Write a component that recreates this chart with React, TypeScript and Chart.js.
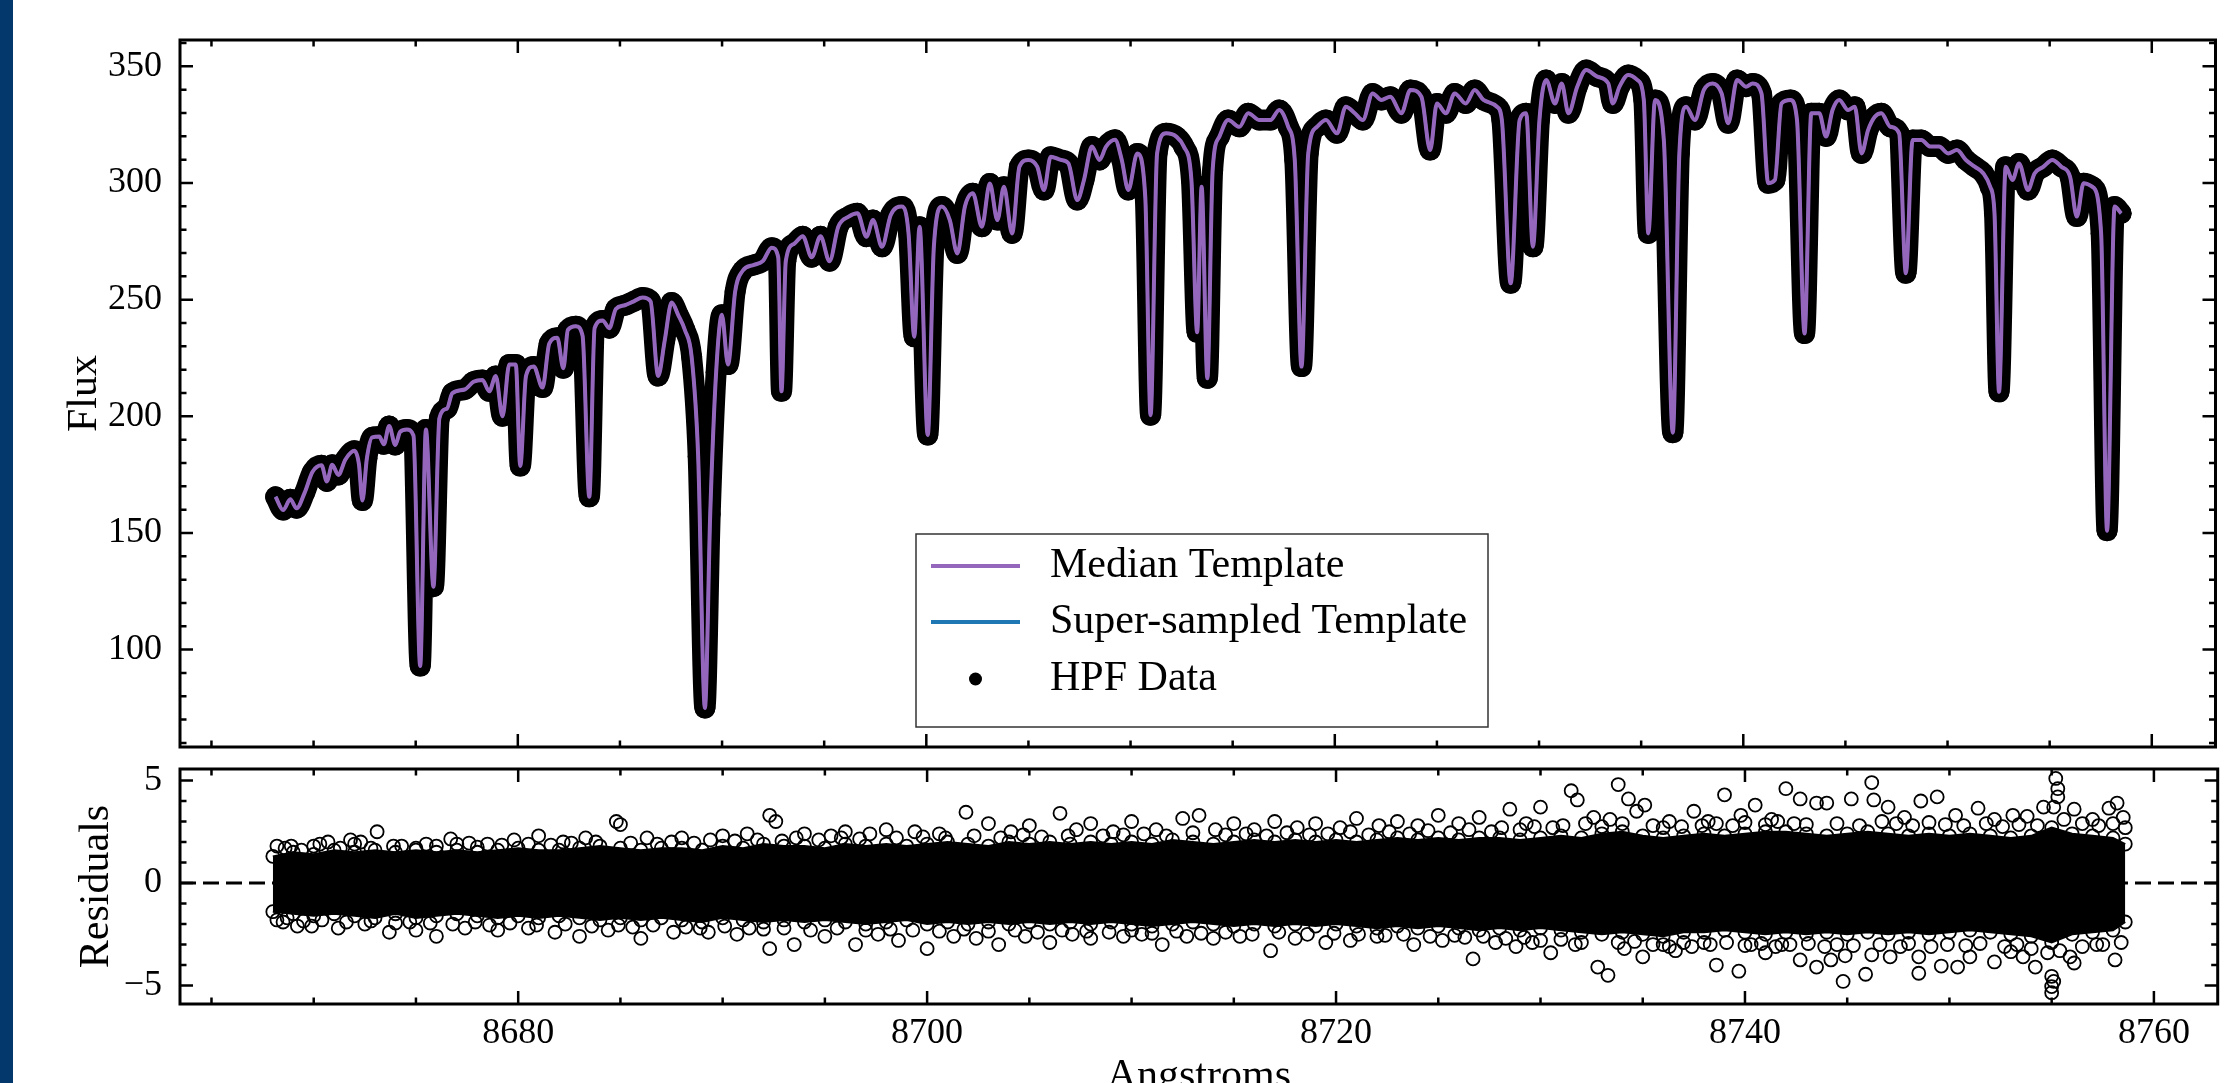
import React, { useEffect, useRef } from 'react';
import { Chart, registerables } from 'chart.js';

Chart.register(...registerables);

// ---------------- data ----------------
// Median template: [wavelength (Angstrom), flux]
const medianTemplate: [number, number][] = [
  [8668.14, 165.5], [8668.51, 159.8], [8668.86, 164.4], [8669.17, 160.6], [8669.56, 167.2],
  [8669.95, 176.2], [8670.39, 179.0], [8670.65, 172.1], [8670.91, 179.2], [8671.21, 174.9],
  [8671.56, 181.5], [8672.0, 185.2], [8672.22, 179.5], [8672.39, 163.9], [8672.61, 182.0],
  [8672.87, 191.0], [8673.22, 191.3], [8673.44, 188.0], [8673.7, 195.9], [8674.0, 187.7],
  [8674.24, 193.4], [8674.57, 194.3], [8674.89, 191.8], [8675.22, 93.0], [8675.5, 194.3],
  [8675.87, 127.0], [8676.16, 199.2], [8676.53, 203.3], [8676.79, 209.9], [8677.4, 211.5],
  [8677.83, 214.8], [8678.27, 215.6], [8678.6, 210.7], [8678.92, 217.3], [8679.25, 200.0],
  [8679.58, 222.2], [8679.9, 222.2], [8680.12, 178.7], [8680.4, 217.3], [8680.78, 221.4],
  [8681.21, 212.3], [8681.54, 231.2], [8681.93, 233.7], [8682.23, 220.6], [8682.45, 237.0],
  [8682.84, 238.6], [8683.17, 234.5], [8683.5, 165.5], [8683.76, 237.8], [8684.15, 241.1],
  [8684.48, 237.8], [8684.8, 246.0], [8685.24, 247.6], [8685.68, 249.3], [8686.11, 250.9],
  [8686.5, 249.3], [8686.87, 217.3], [8687.2, 232.9], [8687.53, 248.8], [8687.85, 243.5],
  [8688.18, 237.0], [8688.51, 225.5], [8688.83, 182.8], [8689.16, 75.0], [8689.42, 158.1],
  [8689.71, 218.9], [8689.99, 243.5], [8690.29, 222.2], [8690.64, 253.4], [8691.01, 262.4],
  [8691.56, 264.9], [8691.99, 266.5], [8692.43, 272.3], [8692.75, 268.2], [8692.91, 210.7],
  [8693.12, 266.5], [8693.52, 273.9], [8693.95, 277.2], [8694.39, 268.2], [8694.82, 277.2],
  [8695.26, 266.5], [8695.69, 281.3], [8696.2, 285.6], [8696.63, 287.0], [8697.07, 277.0],
  [8697.39, 284.1], [8697.83, 272.7], [8698.26, 286.3], [8698.8, 289.9], [8699.13, 278.4],
  [8699.41, 234.1], [8699.67, 281.3], [8700.07, 192.0], [8700.37, 272.7], [8700.76, 289.9],
  [8701.15, 284.1], [8701.52, 269.8], [8701.89, 289.9], [8702.28, 295.6], [8702.72, 281.3],
  [8703.11, 299.8], [8703.48, 284.1], [8703.8, 298.4], [8704.2, 278.4], [8704.56, 307.0],
  [8705.0, 309.9], [8705.43, 307.0], [8705.76, 297.0], [8706.09, 311.3], [8706.59, 309.9],
  [8706.96, 308.4], [8707.39, 292.7], [8707.72, 301.3], [8708.11, 315.6], [8708.48, 309.9],
  [8708.8, 315.6], [8709.24, 318.5], [8709.57, 309.9], [8709.89, 297.0], [8710.33, 312.7],
  [8710.72, 294.1], [8710.98, 200.5], [8711.3, 312.7], [8711.74, 321.3], [8712.24, 319.9],
  [8712.61, 315.6], [8712.98, 301.3], [8713.26, 236.0], [8713.48, 298.4], [8713.76, 216.3],
  [8714.02, 305.6], [8714.35, 319.9], [8714.78, 327.0], [8715.33, 324.1], [8715.76, 329.9],
  [8716.31, 327.0], [8716.85, 327.0], [8717.28, 331.3], [8717.72, 324.1], [8718.04, 309.9],
  [8718.37, 221.3], [8718.7, 312.7], [8719.13, 324.1], [8719.57, 327.0], [8720.11, 321.3],
  [8720.54, 332.7], [8720.98, 329.9], [8721.37, 327.0], [8721.85, 338.4], [8722.28, 335.6],
  [8722.72, 337.0], [8723.26, 329.9], [8723.7, 339.9], [8724.24, 337.0], [8724.67, 314.1],
  [8725.0, 334.1], [8725.44, 329.9], [8725.87, 338.4], [8726.41, 334.1], [8726.85, 339.9],
  [8727.28, 335.6], [8727.94, 332.7], [8728.18, 327.0], [8728.61, 257.0], [8729.05, 327.0],
  [8729.37, 329.9], [8729.7, 272.7], [8730.02, 327.0], [8730.35, 344.2], [8730.78, 334.1],
  [8731.11, 342.7], [8731.44, 329.9], [8731.87, 341.3], [8732.31, 348.4], [8732.85, 345.6],
  [8733.39, 342.7], [8733.61, 334.1], [8733.94, 341.3], [8734.37, 346.3], [8734.81, 344.2],
  [8735.13, 335.6], [8735.35, 278.4], [8735.68, 335.6], [8736.11, 318.4], [8736.55, 193.0],
  [8736.87, 312.7], [8737.2, 332.7], [8737.63, 327.0], [8738.07, 339.9], [8738.5, 342.7],
  [8738.94, 338.4], [8739.26, 325.6], [8739.7, 344.2], [8740.13, 341.3], [8740.46, 342.7],
  [8740.89, 338.4], [8741.22, 299.9], [8741.55, 301.3], [8741.87, 334.1], [8742.31, 335.6],
  [8742.63, 327.0], [8743.0, 235.5], [8743.33, 329.9], [8743.72, 329.9], [8744.05, 319.9],
  [8744.37, 331.3], [8744.7, 335.6], [8745.13, 331.3], [8745.46, 332.7], [8745.79, 312.7],
  [8746.11, 322.7], [8746.44, 328.4], [8746.76, 329.9], [8747.2, 324.1], [8747.63, 321.3],
  [8747.96, 261.3], [8748.29, 318.4], [8748.72, 318.4], [8749.16, 315.6], [8749.59, 315.6],
  [8750.03, 312.7], [8750.46, 314.1], [8750.9, 309.9], [8751.33, 307.0], [8751.76, 304.1],
  [8752.09, 298.4], [8752.3, 287.0], [8752.52, 210.5], [8752.85, 307.0], [8753.18, 301.3],
  [8753.5, 308.4], [8753.94, 297.0], [8754.26, 304.1], [8754.7, 307.0], [8755.13, 309.9],
  [8755.57, 307.0], [8756.0, 302.7], [8756.33, 285.6], [8756.66, 299.9], [8757.09, 298.4],
  [8757.52, 278.4], [8757.81, 151.0], [8758.18, 289.9], [8758.5, 287.0],
];
// The super-sampled template and the HPF data coincide with the median template at this scale
const superSampledTemplate: [number, number][] = medianTemplate;
const hpfData: [number, number][] = medianTemplate;

// Residuals: dense band envelope (wavelength, upper edge, lower edge)
const residBandWave = [
  8668.0, 8669, 8670, 8671, 8672, 8673, 8674, 8675, 8676, 8677,
  8678, 8679, 8680, 8681, 8682, 8683, 8684, 8685, 8686, 8687,
  8688, 8689, 8690, 8691, 8692, 8693, 8694, 8695, 8696, 8697,
  8698, 8699, 8700, 8701, 8702, 8703, 8704, 8705, 8706, 8707,
  8708, 8709, 8710, 8711, 8712, 8713, 8714, 8715, 8716, 8717,
  8718, 8719, 8720, 8721, 8722, 8723, 8724, 8725, 8726, 8727,
  8728, 8729, 8730, 8731, 8732, 8733, 8734, 8735, 8736, 8737,
  8738, 8739, 8740, 8741, 8742, 8743, 8744, 8745, 8746, 8747,
  8748, 8749, 8750, 8751, 8752, 8753, 8754, 8755, 8756, 8757,
  8758, 8758.6,
];
const residBandUpper = [
  1.3, 1.5, 1.4, 1.6, 1.5, 1.6, 1.5, 1.6, 1.5, 1.6,
  1.5, 1.6, 1.7, 1.6, 1.6, 1.7, 1.8, 1.7, 1.6, 1.7,
  1.7, 1.6, 1.8, 1.7, 1.9, 1.8, 1.8, 1.7, 1.9, 1.8,
  1.9, 1.8, 1.9, 2.0, 1.9, 1.8, 2.0, 1.9, 2.0, 1.9,
  2.0, 1.9, 2.0, 1.9, 2.1, 2.0, 1.9, 2.0, 2.1, 2.0,
  2.1, 2.0, 2.1, 2.0, 2.1, 2.2, 2.1, 2.2, 2.1, 2.2,
  2.2, 2.1, 2.2, 2.3, 2.2, 2.4, 2.5, 2.3, 2.2, 2.3,
  2.4, 2.3, 2.4, 2.5, 2.5, 2.4, 2.3, 2.4, 2.5, 2.4,
  2.3, 2.4, 2.3, 2.4, 2.3, 2.2, 2.3, 2.7, 2.4, 2.3,
  2.2, 1.9,
];
const residBandLower = [
  -1.4, -1.5, -1.6, -1.5, -1.6, -1.7, -1.5, -1.7, -1.6, -1.5,
  -1.6, -1.7, -1.6, -1.7, -1.6, -1.7, -1.8, -1.7, -1.8, -1.7,
  -1.8, -1.9, -1.7, -1.8, -1.9, -1.8, -1.9, -1.8, -1.9, -2.0,
  -1.9, -1.8, -2.0, -1.9, -2.0, -1.9, -2.0, -1.9, -2.0, -1.9,
  -2.0, -1.9, -2.0, -2.1, -2.0, -1.9, -2.0, -2.1, -2.0, -2.1,
  -2.0, -2.1, -2.0, -2.1, -2.2, -2.1, -2.2, -2.1, -2.2, -2.3,
  -2.2, -2.3, -2.2, -2.3, -2.4, -2.5, -2.4, -2.5, -2.6, -2.4,
  -2.4, -2.3, -2.4, -2.5, -2.4, -2.5, -2.4, -2.5, -2.4, -2.5,
  -2.4, -2.5, -2.4, -2.3, -2.4, -2.5, -2.6, -2.9, -2.5, -2.4,
  -2.3, -1.9,
];
// Residual circles just outside the dense band: [wavelength, residual]
const residEdgeCircles: [number, number][] = [
  [8668.6, 1.7], [8669.4, 1.6], [8670.0, 1.8], [8671.3, 1.7], [8672.0, 1.9], [8672.8, 1.7],
  [8674.3, 1.8], [8675.0, 1.7], [8676.0, 1.8], [8677.0, 1.9], [8678.0, 1.75], [8679.2, 1.85],
  [8680.5, 1.9], [8681.6, 1.85], [8682.6, 1.95], [8683.8, 2.0], [8685.5, 1.95], [8686.8, 1.9],
  [8687.5, 2.0], [8688.6, 1.95], [8690.6, 2.05], [8691.7, 2.1], [8692.9, 2.05], [8693.6, 2.2],
  [8694.7, 2.1], [8695.8, 2.2], [8696.7, 2.15], [8698.5, 2.2], [8699.8, 2.25], [8700.9, 2.2],
  [8702.3, 2.3], [8703.6, 2.2], [8704.7, 2.35], [8705.6, 2.25], [8706.9, 2.3], [8708.6, 2.3],
  [8709.6, 2.35], [8710.6, 2.4], [8711.7, 2.3], [8713.0, 2.45], [8714.6, 2.35], [8715.6, 2.4],
  [8716.6, 2.3], [8717.6, 2.45], [8718.7, 2.35], [8719.6, 2.4], [8720.7, 2.5], [8721.6, 2.35],
  [8722.6, 2.5], [8723.6, 2.4], [8724.5, 2.55], [8725.6, 2.45], [8726.5, 2.6], [8727.6, 2.5],
  [8728.1, 2.7], [8729.0, 2.6], [8729.7, 2.75], [8730.6, 2.7], [8731.1, 2.8], [8732.2, 2.9],
  [8733.0, 2.75], [8733.4, 3.1], [8734.0, 2.9], [8735.5, 2.8], [8736.0, 2.7], [8736.9, 2.75],
  [8737.9, 2.8], [8738.6, 2.9], [8739.4, 2.8], [8740.0, 2.95], [8741.0, 2.85], [8741.6, 3.0],
  [8742.4, 2.9], [8743.0, 2.85], [8744.5, 2.9], [8745.6, 2.8], [8746.7, 3.0], [8747.4, 2.9],
  [8748.2, 2.8], [8749.0, 2.95], [8749.8, 2.85], [8750.7, 2.8], [8751.8, 2.9], [8752.6, 2.75],
  [8753.4, 2.85], [8754.3, 2.8], [8755.6, 3.1], [8756.5, 2.9], [8757.3, 2.8], [8758.0, 2.9],
  [8758.6, 2.7],
  [8668.7, -1.7], [8669.5, -1.85], [8670.4, -1.8], [8671.6, -1.9], [8672.8, -1.85], [8674.0, -1.95],
  [8674.7, -1.9], [8675.7, -1.95], [8676.8, -2.0], [8677.9, -1.9], [8678.6, -2.05], [8679.6, -1.95],
  [8680.9, -2.05], [8682.3, -2.0], [8683.6, -2.1], [8684.9, -2.05], [8685.6, -2.15], [8686.6, -2.05],
  [8688.2, -2.15], [8688.9, -2.2], [8690.1, -2.1], [8691.3, -2.2], [8692.0, -2.25], [8693.0, -2.2],
  [8694.3, -2.3], [8695.6, -2.2], [8697.0, -2.3], [8698.2, -2.25], [8699.3, -2.3], [8700.6, -2.35],
  [8701.8, -2.25], [8703.0, -2.35], [8704.3, -2.3], [8705.4, -2.4], [8706.6, -2.3], [8707.8, -2.35],
  [8708.9, -2.4], [8710.0, -2.3], [8711.0, -2.45], [8712.2, -2.35], [8713.4, -2.45], [8714.6, -2.4],
  [8715.9, -2.5], [8717.2, -2.4], [8718.6, -2.5], [8719.9, -2.45], [8721.1, -2.5], [8722.4, -2.55],
  [8723.3, -2.5], [8724.6, -2.6], [8725.8, -2.55], [8726.3, -2.65], [8727.2, -2.6], [8728.3, -2.7],
  [8729.2, -2.65], [8730.0, -2.8], [8731.0, -2.75], [8732.0, -2.9], [8733.8, -2.9], [8734.6, -2.85],
  [8735.5, -3.0], [8736.3, -3.1], [8737.0, -2.9], [8738.3, -3.0], [8739.1, -2.9], [8740.0, -3.05],
  [8740.8, -2.95], [8741.5, -3.1], [8742.2, -3.0], [8743.1, -2.95], [8743.9, -3.1], [8744.5, -3.0],
  [8745.3, -3.05], [8746.6, -3.0], [8747.6, -3.1], [8748.0, -2.95], [8749.1, -3.1], [8749.9, -3.0],
  [8750.8, -3.05], [8751.5, -2.95], [8752.7, -3.1], [8753.3, -3.0], [8754.0, -3.2], [8754.8, -3.4],
  [8755.4, -3.3], [8756.5, -3.1], [8757.5, -3.0], [8758.4, -2.9],
];
// Residual outliers: [wavelength, residual]
const residOutliers: [number, number][] = [
  [8668.2, 1.8], [8668.9, 1.8], [8670.3, 1.9], [8670.7, 2.0], [8671.8, 2.1], [8672.3, 2.0],
  [8673.1, 2.5], [8673.9, 1.8], [8675.5, 1.9], [8676.7, 2.15], [8677.6, 1.95], [8678.5, 1.9],
  [8679.8, 2.1], [8681.0, 2.3], [8682.2, 2.0], [8683.3, 2.2], [8684.8, 3.0], [8685.0, 2.85],
  [8686.3, 2.2], [8688.0, 2.2], [8689.4, 2.1], [8690.0, 2.3], [8691.2, 2.4], [8692.3, 3.3],
  [8692.6, 3.0], [8694.0, 2.4], [8695.3, 2.3], [8696.0, 2.5], [8697.2, 2.4], [8698.0, 2.6],
  [8699.4, 2.5], [8700.6, 2.4], [8701.9, 3.45], [8703.0, 2.9], [8704.1, 2.5], [8705.0, 2.8],
  [8706.5, 3.4], [8707.3, 2.6], [8708.0, 2.9], [8709.1, 2.5], [8710.0, 3.0], [8711.2, 2.6],
  [8712.5, 3.15], [8713.3, 3.3], [8714.1, 2.6], [8715.0, 2.9], [8716.0, 2.6], [8717.0, 3.0],
  [8718.1, 2.7], [8719.0, 2.9], [8720.2, 2.7], [8721.0, 3.15], [8722.1, 2.8], [8723.0, 3.0],
  [8724.0, 2.8], [8725.0, 3.3], [8726.0, 2.9], [8727.0, 3.2], [8728.5, 3.6], [8729.3, 2.9],
  [8730.0, 3.7], [8731.5, 4.5], [8731.8, 4.05], [8732.6, 3.2], [8733.8, 4.8], [8734.3, 4.1],
  [8734.7, 3.5], [8735.1, 3.8], [8736.3, 3.0], [8737.5, 3.5], [8738.2, 3.0], [8739.0, 4.3],
  [8739.8, 3.3], [8740.5, 3.8], [8741.3, 3.1], [8742.0, 4.6], [8742.7, 4.1], [8743.5, 3.9],
  [8744.0, 3.9], [8745.2, 4.1], [8746.2, 4.9], [8746.3, 4.05], [8747.0, 3.7], [8747.8, 3.2],
  [8748.6, 4.0], [8749.4, 4.2], [8750.3, 3.3], [8751.4, 3.65], [8752.2, 3.1], [8753.1, 3.3],
  [8753.8, 3.25], [8754.6, 3.7], [8755.2, 5.1], [8755.3, 4.6], [8755.3, 4.2], [8755.1, 3.7],
  [8756.1, 3.6], [8757.0, 3.1], [8757.8, 3.65], [8758.2, 3.9], [8758.5, 3.2],
  [8668.2, -1.8], [8668.5, -1.9], [8669.2, -2.1], [8669.9, -2.1], [8671.2, -2.2], [8672.5, -2.0],
  [8673.7, -2.4], [8675.0, -2.3], [8676.0, -2.6], [8677.4, -2.2], [8679.0, -2.3], [8680.5, -2.2],
  [8681.8, -2.4], [8683.0, -2.6], [8684.4, -2.3], [8686.0, -2.7], [8687.6, -2.4], [8689.3, -2.4],
  [8690.7, -2.5], [8692.3, -3.2], [8693.5, -3.0], [8695.0, -2.6], [8696.5, -3.0], [8697.6, -2.5],
  [8698.6, -2.8], [8700.0, -3.2], [8701.3, -2.6], [8702.4, -2.7], [8703.5, -3.0], [8704.8, -2.6],
  [8706.0, -2.9], [8707.1, -2.5], [8708.0, -2.7], [8709.6, -2.6], [8710.5, -2.5], [8711.5, -3.0],
  [8712.7, -2.6], [8714.0, -2.7], [8715.3, -2.6], [8716.8, -3.3], [8718.0, -2.7], [8719.5, -2.9],
  [8720.7, -2.8], [8722.0, -2.6], [8723.8, -3.0], [8725.2, -2.8], [8726.7, -3.7], [8727.8, -2.9],
  [8728.8, -3.1], [8729.6, -2.9], [8730.5, -3.4], [8731.7, -3.0], [8732.8, -4.1], [8733.3, -4.5],
  [8734.1, -3.2], [8735.0, -3.6], [8736.0, -3.0], [8736.6, -3.3], [8737.4, -3.1], [8738.0, -2.9],
  [8738.6, -4.0], [8739.7, -4.3], [8740.3, -3.0], [8741.0, -3.4], [8741.8, -3.0], [8742.7, -3.75],
  [8743.5, -4.1], [8744.2, -3.75], [8744.8, -4.8], [8744.9, -3.55], [8745.9, -4.45], [8746.2, -3.5],
  [8747.1, -3.6], [8748.5, -4.4], [8748.5, -3.6], [8749.6, -4.05], [8750.4, -4.1], [8751.0, -3.6],
  [8752.2, -3.85], [8753.0, -3.35], [8753.6, -3.6], [8754.2, -4.1], [8755.0, -4.55], [8755.0, -5.05],
  [8755.0, -5.35], [8755.1, -4.8], [8755.9, -3.6], [8756.1, -3.9], [8757.2, -3.0], [8758.1, -3.75],
];

// Axes
const wavelengthTicks = [8680, 8700, 8720, 8740, 8760];
const fluxTicks = [100, 150, 200, 250, 300, 350];
const residualTicks = [-5, 0, 5];
const wavelengthLimits = [8663.46, 8763.12];
const fluxLimits = [58.26, 361.3];
const residualLimits = [-5.9, 5.56];
const legendLabels = ['Median Template', 'Super-sampled Template', 'HPF Data'];

// ---------------- styling ----------------
const FONT = "'Liberation Serif', 'Times New Roman', serif";
const PURPLE = '#9467bd';
const BLUE = '#1f77b4';

const pts = (arr: [number, number][]) => arr.map(([x, y]) => ({ x, y }));
const noPad = (s: any) => {
  s.paddingTop = 0;
  s.paddingBottom = 0;
  s.paddingLeft = 0;
  s.paddingRight = 0;
};

function framePlugin(xMajor: number[], xMinorStep: number, yMajor: number[], yMinorStep: number) {
  return {
    id: 'frameTicks',
    afterDatasetsDraw(chart: any) {
      const { ctx, chartArea: a } = chart;
      const xs = chart.scales.x;
      const ys = chart.scales.y;
      const isMajor = (list: number[], v: number) => list.some((m) => Math.abs(m - v) < 1e-6);
      ctx.save();
      ctx.strokeStyle = '#000';
      ctx.lineWidth = 2.5;
      const xTick = (v: number, len: number) => {
        const p = xs.getPixelForValue(v);
        ctx.beginPath();
        ctx.moveTo(p, a.bottom);
        ctx.lineTo(p, a.bottom - len);
        ctx.moveTo(p, a.top);
        ctx.lineTo(p, a.top + len);
        ctx.stroke();
      };
      const yTick = (v: number, len: number) => {
        const p = ys.getPixelForValue(v);
        ctx.beginPath();
        ctx.moveTo(a.left, p);
        ctx.lineTo(a.left + len, p);
        ctx.moveTo(a.right, p);
        ctx.lineTo(a.right - len, p);
        ctx.stroke();
      };
      for (let k = Math.ceil(xs.min / xMinorStep); k * xMinorStep <= xs.max; k++) {
        const v = k * xMinorStep;
        if (!isMajor(xMajor, v)) xTick(v, 6.5);
      }
      xMajor.forEach((v) => xTick(v, 13));
      for (let k = Math.ceil(ys.min / yMinorStep); k * yMinorStep <= ys.max; k++) {
        const v = k * yMinorStep;
        if (!isMajor(yMajor, v)) yTick(v, 6.5);
      }
      yMajor.forEach((v) => yTick(v, 13));
      ctx.lineWidth = 3;
      ctx.strokeRect(a.left, a.top, a.right - a.left, a.bottom - a.top);
      ctx.restore();
    },
  };
}

const legendPlugin = {
  id: 'boxLegend',
  afterDraw(chart: any) {
    const ctx = chart.ctx;
    const bx = 916, by = 534, bw = 572, bh = 193;
    const rows = [566, 622, 679];
    const hx0 = 931, hx1 = 1020, tx = 1050;
    ctx.save();
    ctx.fillStyle = '#fff';
    ctx.fillRect(bx, by, bw, bh);
    ctx.strokeStyle = '#333';
    ctx.lineWidth = 1.5;
    ctx.strokeRect(bx, by, bw, bh);
    ctx.lineWidth = 4;
    ctx.strokeStyle = PURPLE;
    ctx.beginPath();
    ctx.moveTo(hx0, rows[0]);
    ctx.lineTo(hx1, rows[0]);
    ctx.stroke();
    ctx.strokeStyle = BLUE;
    ctx.beginPath();
    ctx.moveTo(hx0, rows[1]);
    ctx.lineTo(hx1, rows[1]);
    ctx.stroke();
    ctx.fillStyle = '#000';
    ctx.beginPath();
    ctx.arc((hx0 + hx1) / 2, rows[2], 6.5, 0, Math.PI * 2);
    ctx.fill();
    ctx.font = `42px ${FONT}`;
    ctx.textBaseline = 'middle';
    ctx.textAlign = 'left';
    legendLabels.forEach((t, i) => ctx.fillText(t, tx, rows[i]));
    ctx.restore();
  },
};

const circleStyle = {
  pointRadius: 6.5,
  pointBorderWidth: 1.8,
  pointBorderColor: '#000',
  pointBackgroundColor: 'rgba(0,0,0,0)',
};

export default function App() {
  const topRef = useRef<HTMLCanvasElement>(null);
  const botRef = useRef<HTMLCanvasElement>(null);

  useEffect(() => {
    Chart.defaults.font.family = FONT;
    Chart.defaults.color = '#000';

    const top = new Chart(topRef.current as HTMLCanvasElement, {
      type: 'line',
      data: {
        datasets: [
          {
            label: legendLabels[0],
            data: pts(medianTemplate),
            borderColor: PURPLE,
            borderWidth: 4,
            pointRadius: 0,
            cubicInterpolationMode: 'monotone',
            fill: false,
          },
          {
            label: legendLabels[1],
            data: pts(superSampledTemplate),
            borderColor: BLUE,
            borderWidth: 3,
            pointRadius: 0,
            cubicInterpolationMode: 'monotone',
            fill: false,
          },
          {
            label: legendLabels[2],
            data: pts(hpfData),
            borderColor: '#000',
            borderWidth: 21,
            borderJoinStyle: 'round',
            borderCapStyle: 'round',
            cubicInterpolationMode: 'monotone',
            pointRadius: 10.5,
            pointBackgroundColor: '#000',
            pointBorderWidth: 0,
            fill: false,
          },
        ],
      },
      options: {
        responsive: false,
        animation: false,
        devicePixelRatio: 1,
        events: [],
        layout: { padding: { left: 0, right: 3, top: 40, bottom: 13 } },
        plugins: { legend: { display: false }, tooltip: { enabled: false } },
        scales: {
          x: {
            type: 'linear',
            display: false,
            min: wavelengthLimits[0],
            max: wavelengthLimits[1],
            afterFit: noPad,
          },
          y: {
            type: 'linear',
            min: fluxLimits[0],
            max: fluxLimits[1],
            afterBuildTicks: (s: any) => {
              s.ticks = fluxTicks.map((v) => ({ value: v }));
            },
            afterFit: (s: any) => {
              s.width = 180;
              noPad(s);
            },
            grid: { display: false },
            border: { display: false },
            ticks: { color: '#000', font: { size: 36, family: FONT }, padding: 10 },
            title: {
              display: true,
              text: 'Flux',
              color: '#000',
              font: { size: 42, family: FONT },
              padding: { top: 60, bottom: 0 },
            },
          },
        },
      } as any,
      plugins: [framePlugin(wavelengthTicks, 5, fluxTicks, 10), legendPlugin],
    });

    const bot = new Chart(botRef.current as HTMLCanvasElement, {
      type: 'line',
      data: {
        datasets: [
          {
            label: 'outliers',
            data: pts(residOutliers),
            showLine: false,
            ...circleStyle,
            fill: false,
          },
          {
            label: 'edge',
            data: pts(residEdgeCircles),
            showLine: false,
            ...circleStyle,
            fill: false,
          },
          {
            label: 'band upper',
            data: residBandWave.map((x, i) => ({ x, y: residBandUpper[i] })),
            borderColor: '#000',
            borderWidth: 2,
            backgroundColor: '#000',
            fill: '+1',
            ...circleStyle,
          },
          {
            label: 'band lower',
            data: residBandWave.map((x, i) => ({ x, y: residBandLower[i] })),
            borderColor: '#000',
            borderWidth: 2,
            fill: false,
            ...circleStyle,
          },
          {
            label: 'zero',
            data: [
              { x: wavelengthLimits[0], y: 0 },
              { x: wavelengthLimits[1], y: 0 },
            ],
            borderColor: '#000',
            borderWidth: 3,
            borderDash: [16, 7],
            pointRadius: 0,
            fill: false,
          },
        ],
      },
      options: {
        responsive: false,
        animation: false,
        devicePixelRatio: 1,
        events: [],
        layout: { padding: { left: 0, right: 3, top: 14, bottom: 0 } },
        plugins: { legend: { display: false }, tooltip: { enabled: false } },
        scales: {
          x: {
            type: 'linear',
            min: wavelengthLimits[0],
            max: wavelengthLimits[1],
            afterBuildTicks: (s: any) => {
              s.ticks = wavelengthTicks.map((v) => ({ value: v }));
            },
            afterFit: (s: any) => {
              s.height = 111;
              noPad(s);
            },
            grid: { display: false },
            border: { display: false },
            ticks: {
              color: '#000',
              font: { size: 36, family: FONT },
              padding: 0,
              maxRotation: 0,
              autoSkip: false,
              callback: (v: any) => String(v),
            },
            title: {
              display: true,
              text: 'Angstroms',
              color: '#000',
              font: { size: 42, family: FONT },
              padding: { top: 0, bottom: 13 },
            },
          },
          y: {
            type: 'linear',
            min: residualLimits[0],
            max: residualLimits[1],
            afterBuildTicks: (s: any) => {
              s.ticks = residualTicks.map((v) => ({ value: v }));
            },
            afterFit: (s: any) => {
              s.width = 180;
              noPad(s);
            },
            grid: { display: false },
            border: { display: false },
            ticks: {
              color: '#000',
              font: { size: 36, family: FONT },
              padding: 10,
              callback: (v: any) => (Number(v) < 0 ? '\u2212' + Math.abs(Number(v)) : String(v)),
            },
            title: {
              display: true,
              text: 'Residuals',
              color: '#000',
              font: { size: 42, family: FONT },
              padding: { top: 72, bottom: 0 },
            },
          },
        },
      } as any,
      plugins: [framePlugin(wavelengthTicks, 5, residualTicks, 1)],
    });

    return () => {
      top.destroy();
      bot.destroy();
    };
  }, []);

  return (
    <div
      style={{
        position: 'fixed',
        left: 0,
        top: 0,
        width: 2226,
        height: 1083,
        overflow: 'hidden',
        background: '#fff',
      }}
    >
      <div style={{ position: 'absolute', left: 0, top: 0, width: 13, height: 1083, background: '#02386b' }} />
      <canvas
        ref={topRef}
        width={2226}
        height={760}
        style={{ position: 'absolute', left: 0, top: 0, width: 2226, height: 760 }}
      />
      <canvas
        ref={botRef}
        width={2226}
        height={360}
        style={{ position: 'absolute', left: 0, top: 755, width: 2226, height: 360 }}
      />
    </div>
  );
}
